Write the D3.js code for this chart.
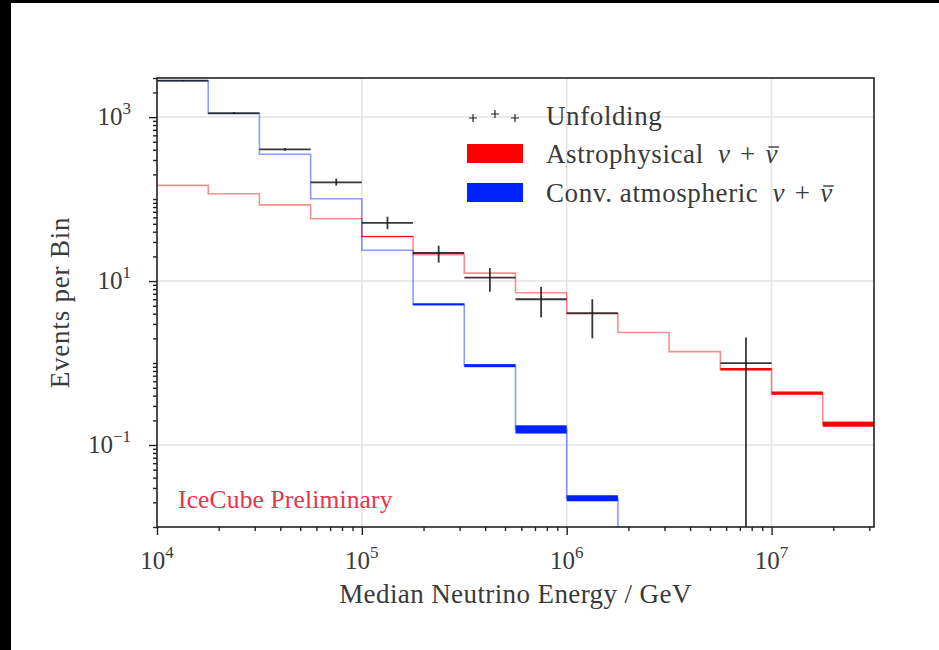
<!DOCTYPE html>
<html>
<head>
<meta charset="utf-8">
<script src="https://cdn.jsdelivr.net/npm/d3@7"></script>
<style>
  body { margin: 0; background: #fff; }
  svg { display: block; }
  text { font-family: "Liberation Serif", "DejaVu Serif", serif; fill: #3a3a3a; }
</style>
</head>
<body>
<div id="chart"></div>
<script>
// bin edges (GeV), quarter-decade bins
var binEdges = [1e4, 1.778e4, 3.162e4, 5.623e4, 1e5, 1.778e5, 3.162e5, 5.623e5,
                1e6, 1.778e6, 3.162e6, 5.623e6, 1e7, 1.778e7, 3.162e7];

// astrophysical expectation (band)
var astroMid = [147, 116, 85, 57.5, 34.9, 20.9, 12.5, 7.2, 4.0, 2.36, 1.38, 0.84, 0.43, 0.18];
var astroLo  = [147, 116, 85, 57.5, 34.4, 20.9, 12.5, 7.2, 4.0, 2.36, 1.38, 0.81, 0.41, 0.167];
var astroHi  = [147, 116, 85, 57.5, 35.4, 20.9, 12.5, 7.2, 4.0, 2.36, 1.38, 0.87, 0.45, 0.193];

// conventional atmospheric expectation (band), falls off the plot after 1.8e6 GeV
var atmoMid = [2770, 1100, 352, 101, 23.8, 5.2, 0.93, 0.155, 0.0224, 0.003];
var atmoLo  = [2770, 1100, 352, 101, 23.8, 5.05, 0.89, 0.138, 0.0206, 0.003];
var atmoHi  = [2770, 1100, 352, 101, 23.8, 5.35, 0.97, 0.174, 0.0244, 0.003];

// unfolded events with errors (null = no point)
var unfVal = [2790, 1120, 403, 160, 51.4, 22, 11, 6.0, 4.07, null, null, 1.0, null, null];
var unfLo  = [2740, 1090, 388, 146, 43, 16.8, 7.4, 3.6, 2.0, null, null, 0.001, null, null];
var unfHi  = [2840, 1150, 418, 178, 61, 27, 14.4, 8.5, 6.0, null, null, 2.05, null, null];

var xMajor = [1e4, 1e5, 1e6, 1e7];
var yMajor = [1e-1, 1e1, 1e3];
var legendLabels = ["Unfolding", "Astrophysical", "Conv. atmospheric"];

var svgWidth = 939, svgHeight = 650;
var plot = {left: 157, right: 874, top: 78, bottom: 527};

var svg = d3.select("#chart").append("svg")
  .attr("width", svgWidth)
  .attr("height", svgHeight);

// dark border of the screenshot
svg.append("rect").attr("x", 0).attr("y", 0).attr("width", svgWidth).attr("height", 3).attr("fill", "#000");
svg.append("rect").attr("x", 0).attr("y", 0).attr("width", 11).attr("height", svgHeight).attr("fill", "#000");

var x = d3.scaleLog().domain([1e4, Math.pow(10, 7.5)]).range([plot.left, plot.right]);
var y = d3.scaleLog().domain([1e-2, 3000]).range([plot.bottom, plot.top]);

// minor tick positions
var xMinor = [], yMinor = [];
for (var k = 4; k <= 7; k++) for (var i = 2; i <= 9; i++) {
  var v = i * Math.pow(10, k);
  if (v <= Math.pow(10, 7.5)) xMinor.push(v);
}
for (var k = -2; k <= 3; k++) for (var i = 1; i <= 9; i++) {
  var v = i * Math.pow(10, k);
  if (v >= 1e-2 && v <= 3000 && yMajor.indexOf(v) < 0) yMinor.push(v);
}

// grid
var grid = svg.append("g").attr("stroke", "#e3e3e3").attr("stroke-width", 1.5);
xMajor.slice(1).forEach(function(d) {
  grid.append("line").attr("x1", x(d)).attr("x2", x(d)).attr("y1", plot.top).attr("y2", plot.bottom);
});
yMajor.forEach(function(d) {
  grid.append("line").attr("x1", plot.left).attr("x2", plot.right).attr("y1", y(d)).attr("y2", y(d));
});

svg.append("clipPath").attr("id", "clip")
  .append("rect")
  .attr("x", plot.left).attr("y", plot.top)
  .attr("width", plot.right - plot.left).attr("height", plot.bottom - plot.top);

var chartGroup = svg.append("g").attr("clip-path", "url(#clip)");

function stepPoints(vals) {
  var pts = [];
  vals.forEach(function(v, i) {
    pts.push([binEdges[i], v]);
    pts.push([binEdges[i + 1], v]);
  });
  return pts;
}

var line = d3.line().x(d => x(d[0])).y(d => y(d[1]));

function drawBand(mid, lo, hi, color) {
  chartGroup.append("path")
    .attr("d", line(stepPoints(mid)))
    .attr("fill", "none")
    .attr("stroke", color)
    .attr("stroke-opacity", 0.45)
    .attr("stroke-width", 1.6);
  chartGroup.selectAll(null)
    .data(mid.map((d, i) => i).filter(i => hi[i] > lo[i]))
    .enter()
    .append("rect")
    .attr("x", i => x(binEdges[i]))
    .attr("width", i => x(binEdges[i + 1]) - x(binEdges[i]))
    .attr("y", i => y(hi[i]))
    .attr("height", i => y(lo[i]) - y(hi[i]))
    .attr("fill", color);
}

drawBand(astroMid, astroLo, astroHi, "#ff0000");
drawBand(atmoMid, atmoLo, atmoHi, "#0022ff");

// unfolding points
var unfIdx = unfVal.map((d, i) => i).filter(i => unfVal[i] !== null);
var errGroup = chartGroup.append("g").attr("stroke", "#151515").attr("stroke-width", 1.8).attr("stroke-opacity", 0.85);
errGroup.selectAll(null).data(unfIdx).enter().append("line")
  .attr("x1", i => x(binEdges[i])).attr("x2", i => x(binEdges[i + 1]))
  .attr("y1", i => y(unfVal[i])).attr("y2", i => y(unfVal[i]));
errGroup.selectAll(null).data(unfIdx).enter().append("line")
  .attr("x1", i => x(Math.sqrt(binEdges[i] * binEdges[i + 1])))
  .attr("x2", i => x(Math.sqrt(binEdges[i] * binEdges[i + 1])))
  .attr("y1", i => y(unfLo[i])).attr("y2", i => y(unfHi[i]));

// axes
var xAxisMajor = d3.axisBottom(x).tickValues(xMajor).tickSize(8).tickFormat("");
var xAxisMinor = d3.axisBottom(x).tickValues(xMinor).tickSize(4).tickFormat("");
var yAxisMajor = d3.axisLeft(y).tickValues(yMajor).tickSize(8).tickFormat("");
var yAxisMinor = d3.axisLeft(y).tickValues(yMinor).tickSize(4).tickFormat("");

[xAxisMajor, xAxisMinor].forEach(function(ax) {
  svg.append("g").attr("transform", `translate(0, ${plot.bottom})`).call(ax)
    .call(g => g.select(".domain").remove())
    .selectAll("line").attr("stroke", "#222").attr("stroke-width", 1.4);
});
[yAxisMajor, yAxisMinor].forEach(function(ax) {
  svg.append("g").attr("transform", `translate(${plot.left}, 0)`).call(ax)
    .call(g => g.select(".domain").remove())
    .selectAll("line").attr("stroke", "#222").attr("stroke-width", 1.4);
});

svg.append("rect")
  .attr("x", plot.left).attr("y", plot.top)
  .attr("width", plot.right - plot.left).attr("height", plot.bottom - plot.top)
  .attr("fill", "none").attr("stroke", "#222").attr("stroke-width", 1.6);

function powLabel(sel, exp) {
  sel.append("tspan").text("10");
  sel.append("tspan").attr("dy", -11).attr("font-size", 17).text(exp < 0 ? "\u2212" + (-exp) : exp);
}

xMajor.forEach(function(d) {
  var t = svg.append("text")
    .attr("x", x(d)).attr("y", 569)
    .attr("text-anchor", "middle")
    .attr("font-size", 25);
  powLabel(t, Math.round(Math.log10(d)));
});
yMajor.forEach(function(d) {
  var t = svg.append("text")
    .attr("x", 131).attr("y", y(d) + 8)
    .attr("text-anchor", "end")
    .attr("font-size", 25);
  powLabel(t, Math.round(Math.log10(d)));
});

svg.append("text")
  .attr("x", (plot.left + plot.right) / 2).attr("y", 603)
  .attr("text-anchor", "middle").attr("font-size", 27).attr("letter-spacing", 0.4)
  .text("Median Neutrino Energy / GeV");

svg.append("text")
  .attr("transform", `translate(69, ${(plot.top + plot.bottom) / 2}) rotate(-90)`)
  .attr("text-anchor", "middle").attr("font-size", 27).attr("letter-spacing", 0.8)
  .text("Events per Bin");

svg.append("text")
  .attr("x", 178).attr("y", 508)
  .attr("font-size", 25.5).attr("letter-spacing", 0.15)
  .style("fill", "#ee3048")
  .text("IceCube Preliminary");

// legend
var legend = svg.append("g");
[[473, 118], [495, 114], [515, 118]].forEach(function(p) {
  legend.append("path")
    .attr("d", `M${p[0] - 4},${p[1]}h8M${p[0]},${p[1] - 4}v8`)
    .attr("stroke", "#222").attr("stroke-width", 1.2);
});
legend.append("rect").attr("x", 467).attr("y", 144).attr("width", 56).attr("height", 19).attr("fill", "#ff0000");
legend.append("rect").attr("x", 467).attr("y", 183).attr("width", 56).attr("height", 19).attr("fill", "#0022ff");

var legendY = [125, 163, 202];
legendLabels.forEach(function(lab, i) {
  var t = legend.append("text").attr("x", 546).attr("y", legendY[i])
    .attr("font-size", 27).attr("letter-spacing", 0.6);
  t.append("tspan").text(lab);
  if (i > 0) {
    t.append("tspan").attr("font-style", "italic").text("\u2002\u03BD");
    t.append("tspan").text("\u2004+\u2004");
    t.append("tspan").attr("font-style", "italic").text("\u03BD");
    // bar over the last nu
    var node = t.node();
    var n = node.getNumberOfChars();
    var box = node.getExtentOfChar(n - 1);
    legend.append("line")
      .attr("x1", box.x + 3).attr("x2", box.x + box.width + 1)
      .attr("y1", legendY[i] - 16).attr("y2", legendY[i] - 16)
      .attr("stroke", "#3a3a3a").attr("stroke-width", 1.4);
  }
});
</script>
</body>
</html>
